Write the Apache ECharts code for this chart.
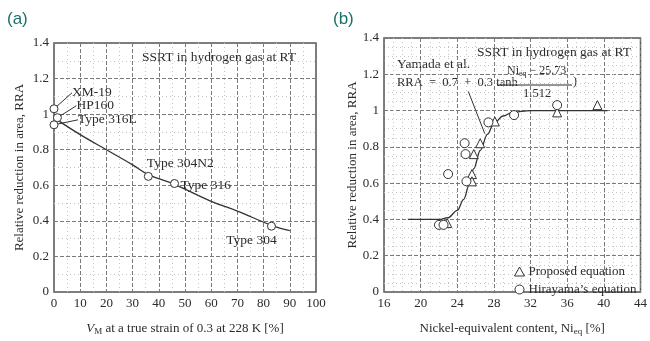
<!DOCTYPE html>
<html>
<head>
<meta charset="utf-8">
<script src="https://cdn.jsdelivr.net/npm/echarts@6/dist/echarts.min.js"></script>
<style>
  html, body { margin: 0; padding: 0; background: #fff; }
  #chart { width: 650px; height: 341px; }
</style>
</head>
<body>
<div id="chart"></div>
<script>
// (a) martensite volume vs RRA
var steelNames = ['XM-19', 'HP160', 'Type 316L', 'Type 304N2', 'Type 316', 'Type 304'];
var steelVm = [0, 1.3, 0, 36, 46, 83];
var steelRra = [1.03, 0.98, 0.94, 0.65, 0.61, 0.37];
var fitVm = [1.5, 10, 20, 30, 36, 46, 60, 70, 83, 90];
var fitRra = [0.965, 0.885, 0.80, 0.715, 0.66, 0.605, 0.51, 0.455, 0.375, 0.345];

// (b) nickel equivalent vs RRA
var proposedNi = [22.9, 25.6, 25.6, 25.8, 26.5, 28.1, 34.9, 39.3];
var proposedRra = [0.38, 0.65, 0.61, 0.76, 0.82, 0.94, 0.99, 1.03];
var hirayamaNi = [22.0, 22.5, 23.0, 24.8, 24.9, 25.0, 27.4, 30.2, 34.9];
var hirayamaRra = [0.37, 0.37, 0.65, 0.82, 0.76, 0.61, 0.935, 0.975, 1.03];
var yamadaNi = [18.6, 22, 23, 24, 24.7, 25.3, 25.8, 26.5, 27.3, 28, 29, 30, 32, 40.4];
var yamadaRra = [0.40, 0.40, 0.41, 0.45, 0.51, 0.59, 0.68, 0.78, 0.87, 0.93, 0.97, 0.99, 1.0, 1.0];
var arrowFrom = [25.2, 1.106];
var arrowTo = [27.0, 0.873];

var SERIF = "'Liberation Serif', 'DejaVu Serif', serif";
var TEXT = '#2b2b2b';

function zip(xs, ys) {
    return xs.map(function (x, i) { return [x, ys[i]]; });
}

// label placement for panel (a): offset from marker centre
var steelLabelPos = [
    { dx: 18, dy: -16, align: 'left', line: true },
    { dx: 19, dy: -12, align: 'left', line: true },
    { dx: 24, dy: -5, align: 'left', line: true },
    { dx: 32, dy: -13, align: 'center' },
    { dx: 6, dy: 2, align: 'left' },
    { dx: -20, dy: 14, align: 'center' }
];

function makeAxis(gridIndex, min, max, interval, minorSplit) {
    return {
        type: 'value',
        gridIndex: gridIndex,
        min: min,
        max: max,
        interval: interval,
        axisLine: { show: false },
        axisTick: { show: false },
        axisLabel: { color: TEXT, fontFamily: SERIF, fontSize: 13, margin: 5 },
        splitLine: { show: true, lineStyle: { color: '#7a7a7a', type: [4, 2], width: 1 } },
        minorTick: { show: false, splitNumber: minorSplit },
        minorSplitLine: { show: true, lineStyle: { color: '#c4c4c4', type: [1, 3], width: 1 } }
    };
}

var chart = echarts.init(document.getElementById('chart'));

var xA = makeAxis(0, 0, 100, 10, 2);
xA.name = '{i|V}{s|M} at a true strain of 0.3 at 228 K [%]';
xA.nameLocation = 'middle';
xA.nameGap = 29;
xA.nameTextStyle = {
    color: TEXT, fontFamily: SERIF, fontSize: 13,
    rich: {
        i: { fontStyle: 'italic', fontFamily: SERIF, fontSize: 13, color: TEXT },
        s: { fontFamily: SERIF, fontSize: 9, color: TEXT, verticalAlign: 'bottom', padding: [6, 0, 0, 0] }
    }
};

var yA = makeAxis(0, 0, 1.4, 0.2, 2);
yA.name = 'Relative reduction in area, RRA';
yA.nameLocation = 'middle';
yA.nameGap = 28;
yA.nameTextStyle = { color: TEXT, fontFamily: SERIF, fontSize: 13 };

var xB = makeAxis(1, 16, 44, 4, 4);
xB.name = 'Nickel-equivalent content, Ni{s|eq} [%]';
xB.nameLocation = 'middle';
xB.nameGap = 29;
xB.nameTextStyle = {
    color: TEXT, fontFamily: SERIF, fontSize: 13,
    rich: {
        s: { fontFamily: SERIF, fontSize: 9, color: TEXT, verticalAlign: 'bottom', padding: [6, 0, 0, 0] }
    }
};

var yB = makeAxis(1, 0, 1.4, 0.2, 4);
yB.name = 'Relative reduction in area, RRA';
yB.nameLocation = 'middle';
yB.nameGap = 25;
yB.nameTextStyle = { color: TEXT, fontFamily: SERIF, fontSize: 13 };

var steelData = steelNames.map(function (n, i) {
    var item = { name: n, value: [steelVm[i], steelRra[i]] };
    if (steelLabelPos[i].line) {
        item.labelLine = { show: true, lineStyle: { color: '#333', width: 1 } };
    }
    return item;
});

var option = {
    animation: false,
    backgroundColor: '#fff',
    textStyle: { fontFamily: SERIF },
    grid: [
        { left: 54, top: 43, width: 262, height: 262, show: true, borderColor: '#555', borderWidth: 1.5, backgroundColor: 'transparent' },
        { left: 384, top: 38, width: 261, height: 262, show: true, borderColor: '#555', borderWidth: 1.5, backgroundColor: 'transparent' }
    ],
    xAxis: [xA, xB],
    yAxis: [yA, yB],
    legend: {
        data: ['Proposed equation', 'Hirayama\u2019s equation'],
        orient: 'vertical',
        left: 509,
        top: 260,
        itemWidth: 10,
        itemHeight: 9,
        itemGap: 5,
        itemStyle: { color: '#fff', borderColor: '#333', borderWidth: 1 },
        textStyle: { color: TEXT, fontFamily: SERIF, fontSize: 13, padding: [0, 0, 0, -1] },
        inactiveColor: TEXT
    },
    graphic: [
        { type: 'text', left: 7, top: 11, style: { text: '(a)', fill: '#1d6f69', font: '17px "Liberation Sans", Arial, sans-serif' } },
        { type: 'text', left: 333, top: 11, style: { text: '(b)', fill: '#1d6f69', font: '17px "Liberation Sans", Arial, sans-serif' } },
        { type: 'text', left: 142, top: 50, style: { text: 'SSRT in hydrogen gas at RT', fill: TEXT, font: '13.5px ' + SERIF } },
        { type: 'text', left: 477, top: 45, style: { text: 'SSRT in hydrogen gas at RT', fill: TEXT, font: '13.5px ' + SERIF } },
        { type: 'text', left: 397, top: 57, style: { text: 'Yamada et al.', fill: TEXT, font: '13.5px ' + SERIF } },
        { type: 'text', left: 397, top: 76, style: { text: 'RRA  =  0.7  +  0.3 tanh', fill: TEXT, font: '12.5px ' + SERIF } },
        {
            type: 'text', left: 507, top: 65,
            style: {
                text: 'Ni{s|eq} \u2212 25.73', fill: TEXT, font: '12px ' + SERIF,
                rich: { s: { fontSize: 8, fontFamily: SERIF, fill: TEXT, padding: [5, 0, 0, 0] } }
            }
        },
        { type: 'line', shape: { x1: 497, y1: 85, x2: 572, y2: 85 }, style: { stroke: TEXT, lineWidth: 1 } },
        { type: 'text', left: 523, top: 87, style: { text: '1.512', fill: TEXT, font: '12.5px ' + SERIF } },
        { type: 'text', left: 573, top: 76, style: { text: ')', fill: TEXT, font: '12px ' + SERIF } }
    ],
    series: [
        {
            type: 'line',
            xAxisIndex: 0, yAxisIndex: 0,
            data: zip(fitVm, fitRra),
            smooth: 0.4,
            showSymbol: false,
            lineStyle: { color: '#333', width: 1.3 },
            z: 3
        },
        {
            type: 'scatter',
            xAxisIndex: 0, yAxisIndex: 0,
            data: steelData,
            symbol: 'circle',
            symbolSize: 8,
            itemStyle: { color: '#fff', borderColor: '#333', borderWidth: 1, opacity: 1 },
            label: {
                show: true,
                formatter: '{b}',
                color: TEXT,
                fontFamily: SERIF,
                fontSize: 13.5
            },
            labelLayout: function (p) {
                var c = steelLabelPos[p.dataIndex];
                return {
                    x: p.rect.x + p.rect.width / 2 + c.dx,
                    y: p.rect.y + p.rect.height / 2 + c.dy,
                    align: c.align,
                    verticalAlign: 'middle'
                };
            },
            z: 5
        },
        {
            type: 'line',
            xAxisIndex: 1, yAxisIndex: 1,
            data: zip(yamadaNi, yamadaRra),
            smooth: 0.35,
            smoothMonotone: 'x',
            showSymbol: false,
            lineStyle: { color: '#333', width: 1.3 },
            markLine: {
                silent: true,
                symbol: ['none', 'arrow'],
                symbolSize: [0, 7],
                label: { show: false },
                lineStyle: { color: '#333', type: 'solid', width: 1 },
                data: [[{ coord: arrowFrom }, { coord: arrowTo }]]
            },
            z: 3
        },
        {
            name: 'Proposed equation',
            type: 'scatter',
            xAxisIndex: 1, yAxisIndex: 1,
            data: zip(proposedNi, proposedRra),
            symbol: 'triangle',
            symbolSize: 9,
            itemStyle: { color: '#fff', borderColor: '#333', borderWidth: 1, opacity: 1 },
            z: 5
        },
        {
            name: 'Hirayama\u2019s equation',
            type: 'scatter',
            xAxisIndex: 1, yAxisIndex: 1,
            data: zip(hirayamaNi, hirayamaRra),
            symbol: 'circle',
            symbolSize: 9,
            itemStyle: { color: '#fff', borderColor: '#333', borderWidth: 1, opacity: 1 },
            z: 5
        }
    ]
};

chart.setOption(option);
</script>
</body>
</html>
